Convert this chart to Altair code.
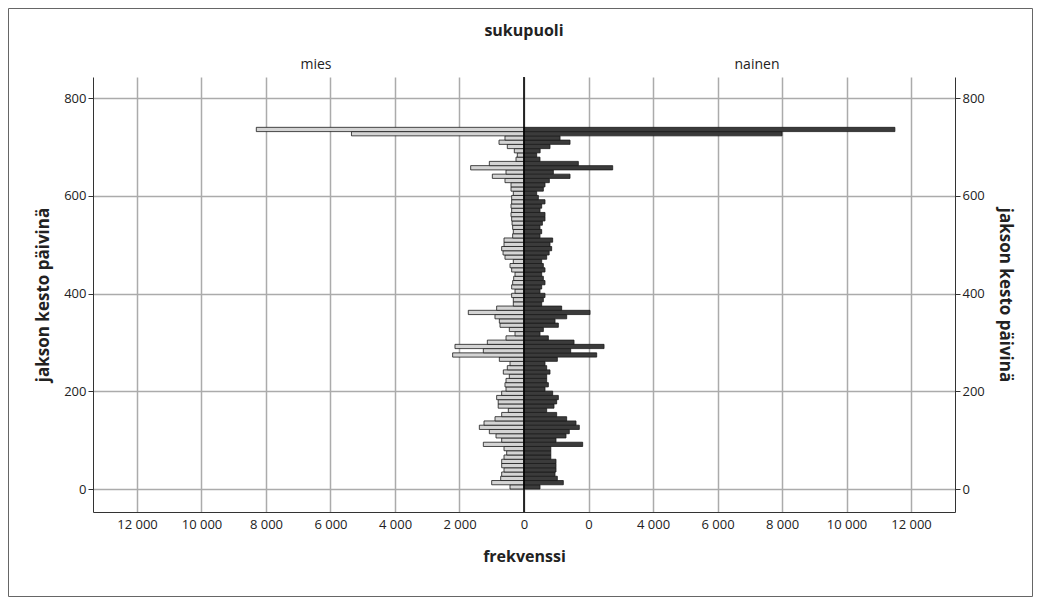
import altair as alt
import pandas as pd
import numpy as np

# ---- data (bins of ~8.7 days, 0 .. 740) ----
N_BINS = 85
BIN_MAX = 740.0

mies = [434, 1002, 723, 692, 620, 692, 692, 620, 537, 620,
        1261, 692, 868, 1075, 1385, 1240, 899, 692, 486, 800,
        800, 848, 693, 558, 590, 558, 455, 641, 517, 434,
        765, 2213, 1261, 2140, 1137, 558, 279, 455, 744, 765,
        900, 1727, 848, 331, 331, 383, 279, 383, 352, 320,
        279, 383, 434, 331, 590, 650, 693, 620, 620, 352,
        331, 352, 370, 383, 403, 383, 403, 383, 383, 331,
        403, 403, 590, 982, 558, 1654, 1075, 248, 207, 300,
        517, 775, 590, 5350, 8300]

nainen = [496, 1219, 1033, 961, 992, 992, 992, 831, 831, 831,
          1819, 992, 1302, 1405, 1715, 1612, 1323, 1013, 703, 930,
          1013, 1065, 889, 651, 755, 703, 703, 806, 703, 651,
          1034, 2254, 1448, 2482, 1551, 755, 496, 600, 1065, 962,
          1324, 2047, 1168, 548, 600, 651, 496, 548, 651, 600,
          548, 651, 600, 548, 703, 780, 858, 806, 889, 496,
          548, 496, 570, 651, 651, 496, 548, 651, 445, 393,
          600, 651, 786, 1427, 910, 2750, 1685, 496, 393, 500,
          806, 1427, 1117, 8000, 11500]

groups = ["mies", "nainen"]
x_ticks = [-12000, -10000, -8000, -6000, -4000, -2000, 0,
           2000, 4000, 6000, 8000, 10000, 12000]
y_ticks = [0, 200, 400, 600, 800]

lo = [i * BIN_MAX / N_BINS for i in range(N_BINS)]
hi = [(i + 1) * BIN_MAX / N_BINS for i in range(N_BINS)]

df = pd.DataFrame({
    "sukupuoli": [groups[0]] * N_BINS + [groups[1]] * N_BINS,
    "lo": lo + lo,
    "hi": hi + hi,
    "frekvenssi": mies + nainen,
})
df["x_start"] = np.where(df["sukupuoli"] == "mies", -df["frekvenssi"], 0)
df["x_end"] = np.where(df["sukupuoli"] == "mies", 0, df["frekvenssi"])

W, H = 862, 435
PAD_L, PAD_T, PAD_R, PAD_B = 85, 69, 78, 85

FONT = "Open Sans"
xscale = alt.Scale(domain=[-13364, 13364], nice=False, zero=False)
yscale = alt.Scale(domain=[-47, 843], nice=False, zero=False)

x_axis = alt.Axis(
    values=x_ticks,
    labelExpr="datum.value == 2000 ? '0' : replace(format(abs(datum.value), ','), ',', ' ')",
    grid=True, gridColor="#ababab", gridWidth=1.5,
    ticks=False, labelPadding=6, labelFontSize=13, labelColor="#222",
    labelFlush=False, labelOverlap=False,
    domainColor="#333", domainWidth=1,
    titleFontSize=16, titleFontWeight="bold", titlePadding=17, titleColor="#222",
)

def y_axis(orient, grid):
    return alt.Axis(
        orient=orient, values=y_ticks, grid=grid,
        gridColor="#ababab", gridWidth=1.5,
        tickSize=5, tickColor="#333", domainColor="#333", domainWidth=1,
        labelPadding=2, labelFontSize=13, labelColor="#222",
        titleFontSize=17, titleFontWeight="bold", titlePadding=11, titleColor="#222",
    )

bars = alt.Chart(df).mark_bar(stroke="#1a1a1a", strokeWidth=0.8).encode(
    x=alt.X("x_start:Q", scale=xscale, axis=x_axis, title="frekvenssi"),
    x2="x_end:Q",
    y=alt.Y("lo:Q", scale=yscale, axis=y_axis("left", True), title="jakson kesto päivinä"),
    y2="hi:Q",
    color=alt.Color("sukupuoli:N",
                    scale=alt.Scale(domain=groups, range=["#d4d4d4", "#3b3b3b"]),
                    legend=None),
)

right_axis = alt.Chart(df).mark_point(opacity=0).encode(
    x=alt.X("x_start:Q", scale=xscale, title="frekvenssi"),
    y=alt.Y("lo:Q", scale=yscale, axis=y_axis("right", False), title="jakson kesto päivinä"),
)

center = alt.Chart(pd.DataFrame({"x_start": [0]})).mark_rule(
    color="#000", strokeWidth=1.6
).encode(x=alt.X("x_start:Q", scale=xscale, title="frekvenssi"))

one = pd.DataFrame({"a": [0]})
title_txt = alt.Chart(one).mark_text(
    text="sukupuoli", font=FONT, fontSize=16, fontWeight="bold", color="#222", baseline="middle"
).encode(x=alt.value(W / 2), y=alt.value(-46))
mies_txt = alt.Chart(one).mark_text(
    text="mies", font=FONT, fontSize=14, color="#222", baseline="middle"
).encode(x=alt.value(223), y=alt.value(-12))
nainen_txt = alt.Chart(one).mark_text(
    text="nainen", font=FONT, fontSize=14, color="#222", baseline="middle"
).encode(x=alt.value(664), y=alt.value(-12))

frame = alt.Chart(one).mark_rect(filled=False, stroke="#666", strokeWidth=1).encode(
    x=alt.value(-PAD_L + 0.5), x2=alt.value(W + PAD_R - 0.5),
    y=alt.value(-PAD_T + 0.5), y2=alt.value(H + PAD_B - 0.5),
)

chart = alt.layer(
    bars, right_axis, center, title_txt, mies_txt, nainen_txt, frame
).resolve_axis(y="independent").properties(
    width=W, height=H,
    autosize=alt.AutoSizeParams(type="none"),
    padding={"left": PAD_L, "top": PAD_T, "right": PAD_R, "bottom": PAD_B},
    background="white",
).configure_view(stroke=None).configure_axis(
    labelFont=FONT, titleFont=FONT
).configure_text(font=FONT)

chart.save("out.html", embed_options={"renderer": "svg", "actions": False})
